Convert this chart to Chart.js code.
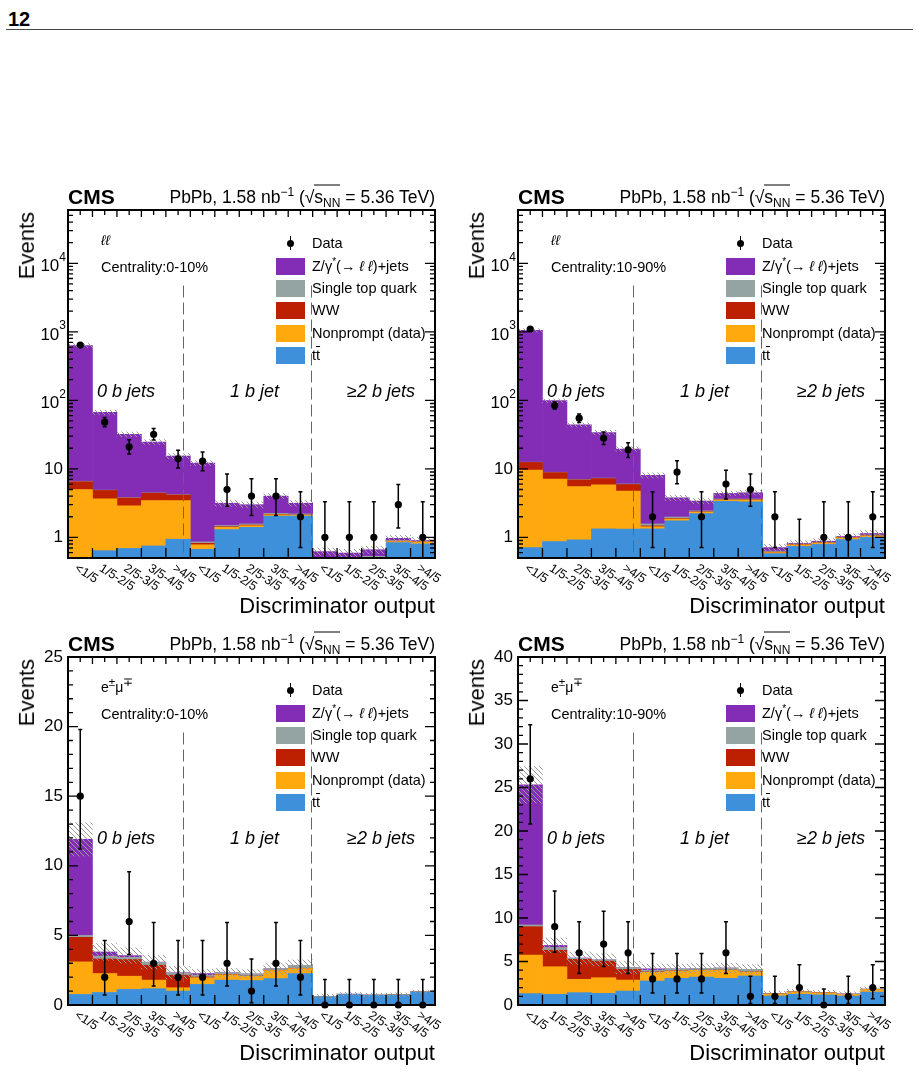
<!DOCTYPE html>
<html>
<head>
<meta charset="utf-8">
<script src="https://cdn.jsdelivr.net/npm/chart.js@4.4.1/dist/chart.umd.min.js"></script>
<style>
  body { margin: 0; background: #fff; width: 920px; height: 1073px; position: relative; overflow: hidden;
         font-family: "Liberation Sans", Arial, Helvetica, sans-serif; }
  .abs { position: absolute; white-space: nowrap; color: #000; line-height: 1; }
  .panel { position: absolute; width: 460px; height: 445px; }
  .panel canvas { position: absolute; left: 0; top: 0; }
  sup, sub { line-height: 0; }
  .ov { border-top: 1px solid #000; padding-top: 1px; }
</style>
</head>
<body>
<div class="abs" style="left:8px;top:8px;font:bold 20px 'Liberation Sans Narrow','Liberation Sans',Arial,sans-serif;">12</div>
<div style="position:absolute;left:6px;top:29px;width:907px;height:1px;background:#444;"></div>

<script>
// bin labels (x axis), region labels
const binLabels = ['<1/5', '1/5-2/5', '2/5-3/5', '3/5-4/5', '>4/5',
                   '<1/5', '1/5-2/5', '2/5-3/5', '3/5-4/5', '>4/5',
                   '<1/5', '1/5-2/5', '2/5-3/5', '3/5-4/5', '>4/5'];
const regionLabels = ['0 b jets', '1 b jet', '\u22652 b jets'];
const logTickValues = [1, 10, 100, 1000, 10000];
const logTickLabels = ['1', '10', '10^2', '10^3', '10^4'];

// ll, centrality 0-10%
const ttTL = [0.3, 0.64, 0.69, 0.75, 0.94, 0.67, 1.3, 1.4, 2.05, 2.05, 0.45, 0.45, 0.48, 0.84, 0.8];
const npTL = [4.7, 3.0, 2.2, 2.7, 2.5, 0.11, 0.1, 0.08, 0.08, 0.05, 0.02, 0.02, 0.02, 0.03, 0.06];
const wwTL = [1.5, 1.2, 0.87, 0.97, 0.73, 0.04, 0.03, 0.03, 0.03, 0.02, 0.01, 0.01, 0.01, 0.01, 0.01];
const stTL = [0.1, 0.05, 0.05, 0.05, 0.05, 0.04, 0.06, 0.06, 0.08, 0.08, 0.02, 0.02, 0.02, 0.02, 0.01];
const zTL  = [625, 62, 28.2, 20.2, 11.2, 11.3, 1.66, 1.43, 1.76, 0.95, 0.12, 0.09, 0.13, 0.07, 0.02];
const uncTL = [45, 5, 2.5, 2, 1.3, 1, 0.3, 0.3, 0.35, 0.3, 0.08, 0.08, 0.08, 0.1, 0.1];
const dataTL  = [640, 48, 21, 32, 14, 13, 5, 4, 4, 2, 1, 1, 1, 3, 1];
const errLoTL = [614.7, 41.1, 16.5, 26.4, 10.3, 9.4, 2.84, 2.09, 2.09, 0.71, 0.17, 0.17, 0.17, 1.37, 0.17];
const errHiTL = [666.3, 56.0, 26.6, 38.7, 18.7, 17.6, 8.38, 7.16, 7.16, 4.64, 3.30, 3.30, 3.30, 5.92, 3.30];

// ll, centrality 10-90%
const ttTR = [0.71, 0.87, 0.92, 1.33, 1.32, 1.33, 1.75, 2.22, 3.35, 3.3, 0.58, 0.74, 0.79, 0.93, 1.0];
const npTR = [8.85, 6.2, 4.6, 4.5, 3.4, 0.1, 0.1, 0.12, 0.15, 0.2, 0.02, 0.04, 0.04, 0.05, 0.05];
const wwTR = [2.85, 1.75, 1.4, 1.4, 1.2, 0.04, 0.03, 0.02, 0.03, 0.03, 0.01, 0.01, 0.01, 0.01, 0.01];
const stTR = [0.1, 0.1, 0.1, 0.1, 0.1, 0.1, 0.1, 0.08, 0.1, 0.1, 0.02, 0.01, 0.01, 0.01, 0.02];
const zTR  = [1037, 90, 37, 26.6, 13.5, 6.5, 1.8, 0.95, 0.75, 0.85, 0.08, 0.02, 0.03, 0.03, 0.06];
const uncTR = [60, 6, 3, 2.5, 1.5, 0.7, 0.35, 0.3, 0.35, 0.35, 0.08, 0.08, 0.08, 0.1, 0.12];
const dataTR  = [1100, 84, 55, 28, 19, 2, 9, 2, 6, 5, 2, 0, 1, 1, 2];
const errLoTR = [1067, 74.9, 47.6, 22.6, 14.7, 0.71, 6.06, 0.71, 3.62, 2.84, 0.71, 0, 0.17, 0.17, 0.71];
const errHiTR = [1134, 94.2, 63.4, 34.4, 24.1, 4.64, 13.1, 4.64, 9.58, 8.38, 4.64, 1.84, 3.30, 3.30, 4.64];

// e mu, centrality 0-10%
const ttBL = [0.76, 0.9, 1.12, 1.17, 1.0, 1.48, 1.79, 1.76, 1.9, 2.26, 0.6, 0.76, 0.7, 0.72, 0.93];
const npBL = [2.34, 1.36, 0.95, 0.62, 0.24, 0.48, 0.38, 0.3, 0.58, 0.36, 0, 0, 0, 0, 0];
const wwBL = [1.76, 1.05, 1.2, 1.07, 0.9, 0.05, 0.03, 0.02, 0.02, 0.02, 0, 0, 0, 0, 0];
const stBL = [0.14, 0.2, 0.15, 0.2, 0.16, 0.13, 0.12, 0.15, 0.12, 0.2, 0.02, 0.02, 0.02, 0.02, 0.02];
const zBL  = [6.9, 0.3, 0.13, 0.02, 0.02, 0.12, 0, 0, 0, 0, 0, 0, 0, 0, 0];
const uncBL = [1.2, 0.6, 0.55, 0.5, 0.45, 0.3, 0.3, 0.3, 0.4, 0.4, 0.15, 0.12, 0.12, 0.12, 0.12];
const dataBL  = [15, 2, 6, 3, 2, 2, 3, 1, 3, 2, 0, 0, 0, 0, 0];
const errLoBL = [11.2, 0.71, 3.62, 1.37, 0.71, 0.71, 1.37, 0.17, 1.37, 0.71, 0, 0, 0, 0, 0];
const errHiBL = [19.8, 4.64, 9.58, 5.92, 4.64, 4.64, 5.92, 3.30, 5.92, 4.64, 1.84, 1.84, 1.84, 1.84, 1.84];

// e mu, centrality 10-90%
const ttBR = [1.31, 1.23, 1.42, 1.34, 1.6, 2.76, 3.07, 3.21, 3.07, 3.33, 1.03, 1.23, 1.15, 1.03, 1.49];
const npBR = [4.43, 3.17, 1.53, 1.8, 1.27, 1.0, 0.83, 0.77, 0.93, 0.46, 0.25, 0.27, 0.25, 0.2, 0.3];
const wwBR = [3.26, 1.9, 2.3, 1.9, 1.23, 0.05, 0.03, 0.03, 0.03, 0.03, 0.01, 0.01, 0.01, 0.01, 0.01];
const stBR = [0.2, 0.3, 0.1, 0.15, 0.2, 0.2, 0.22, 0.2, 0.22, 0.28, 0.03, 0.03, 0.03, 0.03, 0.03];
const zBR  = [16.1, 0.25, 0.05, 0, 0, 0.15, 0, 0, 0, 0, 0, 0, 0, 0, 0];
const uncBR = [2.1, 0.85, 0.7, 0.7, 0.7, 0.55, 0.55, 0.55, 0.55, 0.55, 0.25, 0.25, 0.25, 0.25, 0.25];
const dataBR  = [26, 9, 6, 7, 6, 3, 3, 3, 6, 1, 1, 2, 0, 1, 2];
const errLoBR = [20.8, 6.06, 3.62, 4.42, 3.62, 1.37, 1.37, 1.37, 3.62, 0.17, 0.17, 0.71, 0, 0.17, 0.71];
const errHiBR = [32.2, 13.1, 9.58, 10.77, 9.58, 5.92, 5.92, 5.92, 9.58, 3.30, 3.30, 4.64, 1.84, 3.30, 4.64];

const COLORS = { tt: '#3f90da', np: '#ffa90e', ww: '#bd1f01', st: '#94a4a2', z: '#832db6' };
const FONT = '"Liberation Sans", Arial, Helvetica, sans-serif';

const panels = [
  { x: 0,   y: 180, log: true,  min: 0.5, max: 6e4, chan: '<i>\u2113\u2113</i>', cent: 'Centrality:0-10%',
    tt: ttTL, np: npTL, ww: wwTL, st: stTL, z: zTL, unc: uncTL, data: dataTL, lo: errLoTL, hi: errHiTL },
  { x: 450, y: 180, log: true,  min: 0.5, max: 6e4, chan: '<i>\u2113\u2113</i>', cent: 'Centrality:10-90%',
    tt: ttTR, np: npTR, ww: wwTR, st: stTR, z: zTR, unc: uncTR, data: dataTR, lo: errLoTR, hi: errHiTR },
  { x: 0,   y: 627, log: false, min: 0, max: 25, chan: 'e<sup>\u00b1</sup>\u03bc<sup>\u2213</sup>', cent: 'Centrality:0-10%',
    tt: ttBL, np: npBL, ww: wwBL, st: stBL, z: zBL, unc: uncBL, data: dataBL, lo: errLoBL, hi: errHiBL },
  { x: 450, y: 627, log: false, min: 0, max: 40, chan: 'e<sup>\u00b1</sup>\u03bc<sup>\u2213</sup>', cent: 'Centrality:10-90%',
    tt: ttBR, np: npBR, ww: wwBR, st: stBR, z: zBR, unc: uncBR, data: dataBR, lo: errLoBR, hi: errHiBR }
];

function makeHatch() {
  const c = document.createElement('canvas');
  c.width = 5; c.height = 5;
  const g = c.getContext('2d');
  g.strokeStyle = '#9a9a9a';
  g.lineWidth = 1;
  g.beginPath();
  g.moveTo(-1, -1); g.lineTo(6, 6);
  g.moveTo(-3.5, 1.5); g.lineTo(1.5, 6.5);
  g.moveTo(1.5, -3.5); g.lineTo(6.5, 1.5);
  g.stroke();
  return g.createPattern(c, 'repeat');
}

function txt(parent, html, css) {
  const d = document.createElement('div');
  d.className = 'abs';
  d.innerHTML = html;
  Object.assign(d.style, css);
  parent.appendChild(d);
  return d;
}

// frame, inner ticks, labels, error bars, dashed separators
function decor(p) {
  return {
    id: 'decor',
    afterDatasetsDraw(chart) {
      const { ctx, chartArea: a, scales: { x, y } } = chart;
      ctx.save();

      // data error bars
      ctx.strokeStyle = '#000';
      ctx.lineWidth = 1.5;
      p.data.forEach((v, i) => {
        const px = x.getPixelForValue(i);
        let y1 = y.getPixelForValue(Math.max(p.lo[i], p.min));
        let y2 = y.getPixelForValue(p.hi[i]);
        y1 = Math.min(y1, a.bottom);
        ctx.beginPath();
        ctx.moveTo(px, y1); ctx.lineTo(px, y2);
        ctx.moveTo(px - 2, y2); ctx.lineTo(px + 2, y2);
        if (y1 < a.bottom - 1) { ctx.moveTo(px - 2, y1); ctx.lineTo(px + 2, y1); }
        ctx.stroke();
      });

      // dashed separators between b-jet categories
      ctx.strokeStyle = '#666';
      ctx.lineWidth = 1;
      ctx.setLineDash([12, 5]);
      const yTop = a.top + 0.217 * (a.bottom - a.top);
      [4.2, 9.45].forEach(v => {
        const px = Math.round(x.getPixelForValue(v)) + 0.5;
        ctx.beginPath(); ctx.moveTo(px, yTop); ctx.lineTo(px, a.bottom); ctx.stroke();
      });
      ctx.setLineDash([]);

      // ticks
      ctx.strokeStyle = '#000';
      ctx.lineWidth = 1.3;
      const yTick = (v, len) => {
        const py = y.getPixelForValue(v);
        ctx.beginPath();
        ctx.moveTo(a.left, py); ctx.lineTo(a.left + len, py);
        ctx.moveTo(a.right, py); ctx.lineTo(a.right - len, py);
        ctx.stroke();
      };
      if (p.log) {
        for (let d = 0.1; d < p.max; d *= 10) {
          for (let m = 1; m <= 9; m++) {
            const v = m * d;
            if (v <= p.min || v >= p.max) continue;
            yTick(v, m === 1 ? 10 : 5);
          }
        }
      } else {
        for (let v = p.min + 1; v < p.max; v++) yTick(v, v % 5 === 0 ? 10 : 5);
      }
      for (let k = 0; k < binLabels.length; k++) {
        const xe = x.getPixelForValue(k + 0.5);
        const xc = x.getPixelForValue(k);
        ctx.beginPath();
        if (k < binLabels.length - 1) {
          ctx.moveTo(xe, a.bottom); ctx.lineTo(xe, a.bottom - 10);
          ctx.moveTo(xe, a.top); ctx.lineTo(xe, a.top + 7);
        }
        ctx.moveTo(xc, a.top); ctx.lineTo(xc, a.top + 5);
        ctx.stroke();
      }

      // frame
      ctx.lineWidth = 2;
      ctx.strokeRect(a.left, a.top, a.right - a.left, a.bottom - a.top);

      // y tick labels
      ctx.fillStyle = '#000';
      ctx.textAlign = 'right';
      ctx.textBaseline = 'middle';
      if (p.log) {
        logTickValues.forEach((v, i) => {
          const py = y.getPixelForValue(v);
          const parts = logTickLabels[i].split('^');
          if (parts.length === 1) {
            ctx.font = '17px ' + FONT;
            ctx.fillText(parts[0], a.left - 5, py);
          } else {
            ctx.font = '12px ' + FONT;
            const w = ctx.measureText(parts[1]).width;
            ctx.fillText(parts[1], a.left - 2, py - 6);
            ctx.font = '17px ' + FONT;
            ctx.fillText(parts[0], a.left - 2 - w, py + 3);
          }
        });
      } else {
        ctx.font = '17px ' + FONT;
        for (let v = p.min; v <= p.max; v += 5) {
          ctx.fillText(String(v), a.left - 5, y.getPixelForValue(v));
        }
      }

      // x tick labels, rotated clockwise
      ctx.font = '12.5px ' + FONT;
      ctx.textAlign = 'left';
      ctx.textBaseline = 'top';
      binLabels.forEach((lab, i) => {
        ctx.save();
        ctx.translate(x.getPixelForValue(i) - 1, a.bottom + 4);
        ctx.rotate(32 * Math.PI / 180);
        ctx.fillText(lab, 0, 0);
        ctx.restore();
      });

      ctx.restore();
    }
  };
}

const hatch = makeHatch();

panels.forEach(p => {
  const wrap = document.createElement('div');
  wrap.className = 'panel';
  wrap.style.left = p.x + 'px';
  wrap.style.top = p.y + 'px';
  document.body.appendChild(wrap);
  const cv = document.createElement('canvas');
  cv.width = 460; cv.height = 445;
  wrap.appendChild(cv);

  const band = p.tt.map((v, i) => {
    const tot = v + p.np[i] + p.ww[i] + p.st[i] + p.z[i];
    return [Math.max(tot - p.unc[i], p.log ? 1e-3 : 0), tot + p.unc[i]];
  });

  new Chart(cv, {
    type: 'bar',
    data: {
      labels: binLabels,
      datasets: [
        { type: 'line', label: 'Data', data: p.data, stack: 'data', order: 0, showLine: false,
          pointRadius: c => (p.log && c.raw <= 0) ? 0 : 3.6, pointHoverRadius: 0,
          pointBackgroundColor: '#000', pointBorderColor: '#000', pointBorderWidth: 0, clip: false },
        { label: 'Uncertainty', data: band, stack: 'unc', order: 1, backgroundColor: hatch },
        { label: 'tt', data: p.tt, stack: 'mc', order: 2, backgroundColor: COLORS.tt },
        { label: 'Nonprompt', data: p.np, stack: 'mc', order: 2, backgroundColor: COLORS.np },
        { label: 'WW', data: p.ww, stack: 'mc', order: 2, backgroundColor: COLORS.ww },
        { label: 'Single top', data: p.st, stack: 'mc', order: 2, backgroundColor: COLORS.st },
        { label: 'Z', data: p.z, stack: 'mc', order: 2, backgroundColor: COLORS.z }
      ]
    },
    options: {
      responsive: false,
      animation: false,
      events: [],
      layout: { padding: { left: 0, right: 25, top: 30, bottom: 0 } },
      plugins: { legend: { display: false }, tooltip: { enabled: false } },
      datasets: { bar: { barPercentage: 1, categoryPercentage: 1, borderWidth: 0, grouped: false } },
      scales: {
        x: { stacked: true, offset: true, grid: { display: false }, border: { display: false },
             ticks: { display: false }, afterFit: s => { s.height = 67; } },
        y: { type: p.log ? 'logarithmic' : 'linear', stacked: true, min: p.min, max: p.max,
             grid: { display: false }, border: { display: false },
             ticks: { display: false }, afterFit: s => { s.width = 68; } }
      }
    },
    plugins: [decor(p)]
  });

  // header
  txt(wrap, 'CMS', { left: '68px', top: '17px', transform: 'translateY(-50%)', font: 'bold 21px ' + FONT });
  txt(wrap, 'PbPb, 1.58 nb<sup style="font-size:12px">\u22121</sup> (\u221a<span class="ov">s<sub style="font-size:12px">NN</sub></span> = 5.36 TeV)',
      { right: '25px', top: '17px', transform: 'translateY(-50%)', font: '17.5px ' + FONT });
  txt(wrap, p.chan, { left: '101px', top: '60px', transform: 'translateY(-50%)', font: '14px ' + FONT });
  txt(wrap, p.cent, { left: '101px', top: '87px', transform: 'translateY(-50%)', font: '14.5px ' + FONT });

  // legend
  const rows = [63, 86, 108, 130, 153, 175];
  const dot = document.createElement('div');
  Object.assign(dot.style, { position: 'absolute', left: '286.5px', top: (rows[0] - 3.5) + 'px', width: '7px', height: '7px',
                             borderRadius: '50%', background: '#000' });
  wrap.appendChild(dot);
  const bar = document.createElement('div');
  Object.assign(bar.style, { position: 'absolute', left: '289.5px', top: (rows[0] - 7) + 'px', width: '1.5px', height: '14px', background: '#000' });
  wrap.appendChild(bar);
  const legend = [
    [null, 'Data'],
    [COLORS.z, ' Z/\u03b3<sup style="font-size:10px">*</sup>(\u2192 <i>\u2113 \u2113</i>)+jets'],
    [COLORS.st, 'Single top quark'],
    [COLORS.ww, 'WW'],
    [COLORS.np, 'Nonprompt (data)'],
    [COLORS.tt, 't<span style="text-decoration:overline">t</span>']
  ];
  legend.forEach(([col, label], i) => {
    if (col) {
      const b = document.createElement('div');
      Object.assign(b.style, { position: 'absolute', left: '276px', top: (rows[i] - 8.5) + 'px', width: '29px', height: '17px', background: col });
      wrap.appendChild(b);
    }
    txt(wrap, label, { left: '312px', top: rows[i] + 'px', transform: 'translateY(-50%)', font: '14.5px ' + FONT });
  });

  // category labels
  [97, 230, 347].forEach((lx, i) => {
    txt(wrap, regionLabels[i], { left: lx + 'px', top: '211px', transform: 'translateY(-50%)', font: 'italic 18px ' + FONT });
  });

  // axis titles
  txt(wrap, 'Events', { left: '15px', top: '32px', writingMode: 'vertical-rl', transform: 'rotate(180deg)',
                        font: '22px ' + FONT, lineHeight: '24px' });
  txt(wrap, 'Discriminator output', { right: '25px', top: '426px', transform: 'translateY(-50%)', font: '22px ' + FONT });
});
</script>
</body>
</html>
